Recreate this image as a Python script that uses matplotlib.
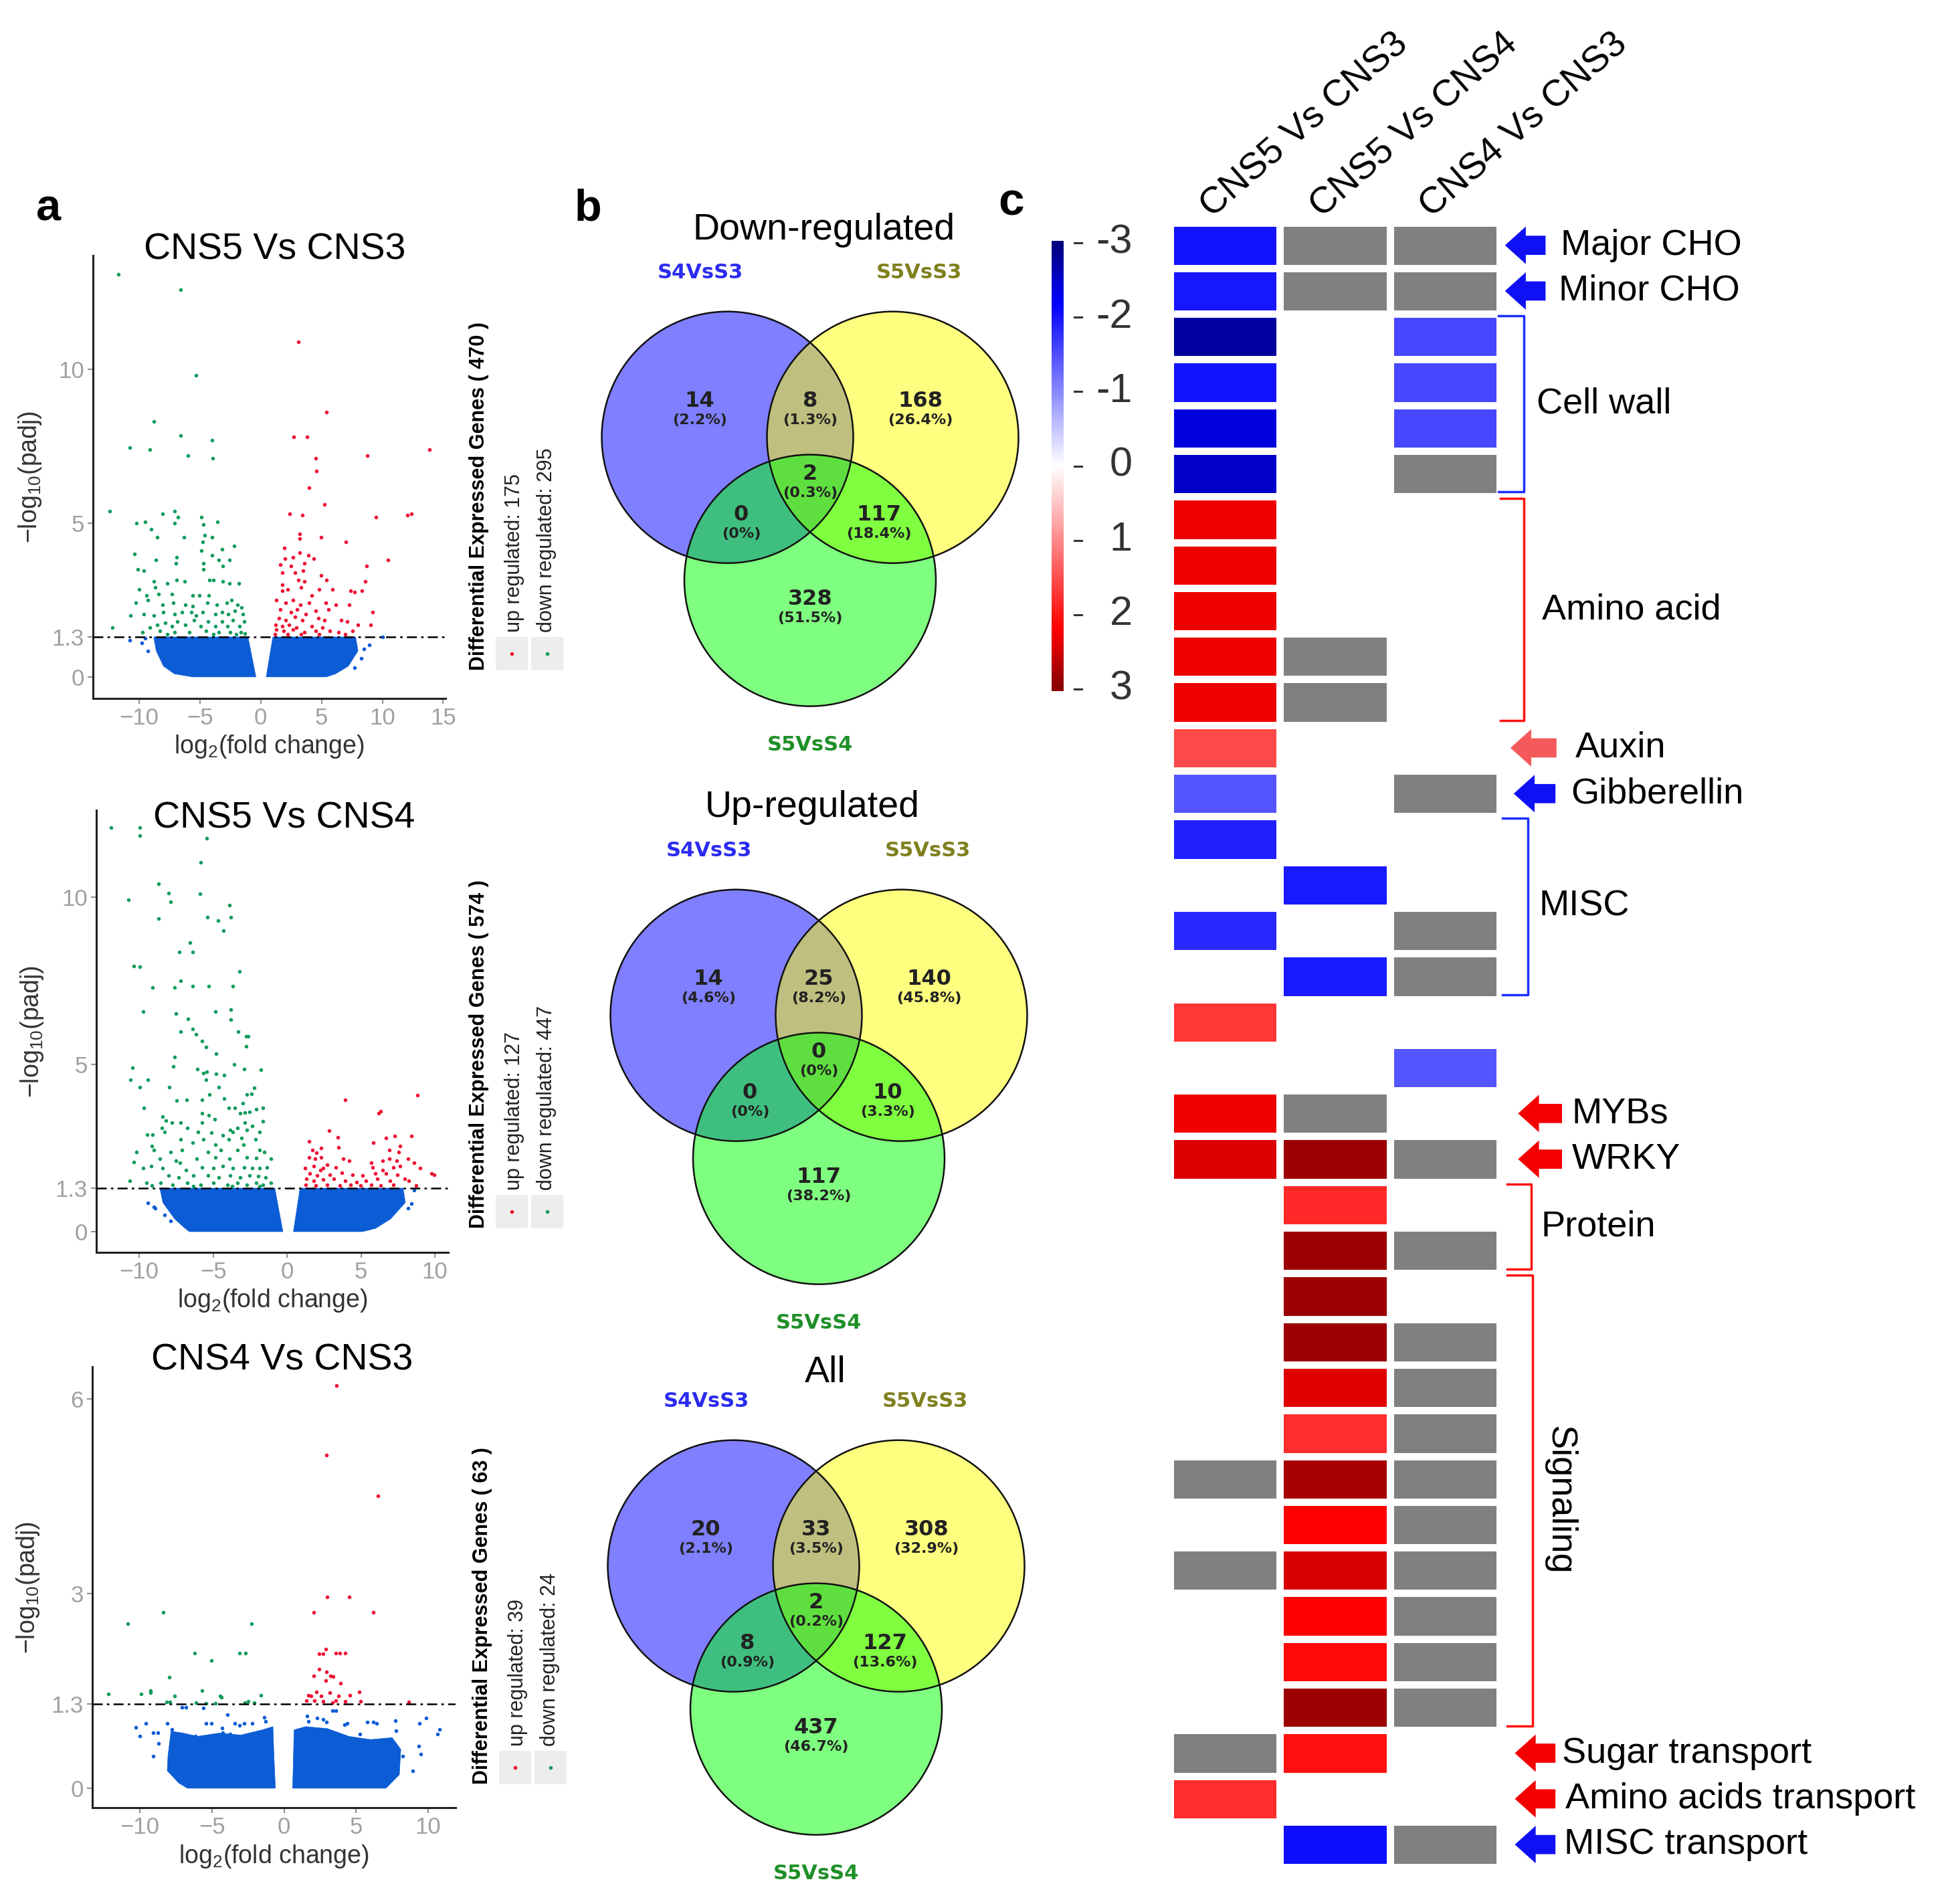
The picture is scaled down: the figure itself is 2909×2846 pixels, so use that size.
import numpy as np
import matplotlib
matplotlib.use('Agg')
import matplotlib.pyplot as plt
from matplotlib.colors import LinearSegmentedColormap, ListedColormap, Normalize
from matplotlib.patches import Circle, Polygon, Rectangle
from matplotlib.lines import Line2D

plt.rcParams['font.family'] = ['Liberation Sans', 'DejaVu Sans']
plt.rcParams['mathtext.fontset'] = 'custom'
plt.rcParams['mathtext.rm'] = 'Liberation Sans'
plt.rcParams['mathtext.it'] = 'Liberation Sans:italic'
plt.rcParams['mathtext.bf'] = 'Liberation Sans:bold'

# ---------------- data: volcano plots ----------------
v1_down = [(-11.7,13.1),(-6.6,12.6),(-5.3,9.8),(-8.8,8.3),(-6.6,7.85),(-10.8,7.45),(-9.1,7.4),(-4.0,7.7),
           (-6.0,7.2),(-3.95,7.1),(-12.4,5.4),(-10.2,5.0),(-9.5,5.05),(-9.0,4.8),(-8.1,5.3),(-7.1,5.4),
           (-6.8,5.2),(-7.1,5.0),(-8.5,4.55),(-6.3,4.55),(-4.9,5.2),(-4.7,4.95),(-3.55,5.05),(-4.6,4.6),
           (-4.0,4.55),(-4.8,4.4),(-4.9,4.1),(-3.2,4.15),(-2.2,4.25),(-10.4,4.0),(-8.6,3.8),(-6.9,3.9),
           (-7.0,3.7),(-4.7,3.7),(-4.0,3.95),(-3.45,3.8),(-2.6,3.8),(-10.1,3.5),(-9.6,3.45),(-4.7,3.5),
           (-3.1,3.6),(-6.9,3.15),(-6.25,3.1),(-8.8,3.1),(-7.7,3.05),(-4.2,3.15),(-3.9,3.15),(-3.1,3.1),
           (-2.55,3.05),(-1.8,3.05),(-10.0,2.85),(-8.7,2.9),(-9.4,2.65),(-8.4,2.7),(-7.3,2.7),(-5.6,2.65),
           (-5.05,2.65),(-4.3,2.65),(-10.3,2.4),(-9.3,2.5),(-8.1,2.35),(-7.2,2.4),(-6.2,2.35),(-5.6,2.3),
           (-4.4,2.4),(-3.6,2.35),(-2.8,2.4),(-2.4,2.5),(-1.9,2.35),(-1.6,2.25),(-10.7,2.0),(-9.6,2.05),
           (-8.8,2.0),(-8.0,2.1),(-7.1,2.05),(-6.5,2.1),(-5.7,2.1),(-5.3,2.0),(-4.8,2.1),(-3.75,2.05),
           (-3.2,2.1),(-2.7,2.05),(-2.15,2.15),(-1.45,2.05),(-12.2,1.6),(-9.75,1.45),(-9.1,1.6),(-8.5,1.7),
           (-7.85,1.75),(-7.3,1.65),(-6.85,1.8),(-6.2,1.7),(-5.5,1.85),(-4.95,1.65),(-4.35,1.8),(-3.75,1.65),
           (-3.2,1.8),(-2.75,1.65),(-2.3,1.85),(-1.75,1.65),(-1.35,1.8),(-8.3,1.5),(-7.1,1.45),(-5.9,1.45),
           (-4.5,1.5),(-3.45,1.45),(-2.5,1.45),(-1.65,1.45),(-7.7,1.38),(-3.9,1.38),(-2.05,1.38),(-1.3,1.4)]
v1_up = [(3.1,10.9),(5.4,8.6),(2.7,7.8),(3.8,7.8),(4.5,7.1),(8.75,7.2),(13.9,7.4),(4.6,6.7),(4.0,6.15),
         (5.25,5.6),(2.4,5.3),(3.4,5.25),(9.45,5.2),(12.05,5.25),(12.4,5.3),(3.2,4.65),(3.2,4.5),(4.95,4.55),
         (7.0,4.4),(1.95,4.2),(10.45,3.8),(2.0,3.85),(2.65,3.9),(3.2,4.05),(3.9,3.95),(4.35,3.85),(1.6,3.65),
         (2.5,3.6),(3.6,3.7),(8.7,3.6),(1.8,3.4),(2.8,3.4),(3.5,3.45),(4.95,3.3),(3.1,3.15),(3.6,3.1),
         (5.4,3.15),(8.6,3.1),(1.8,3.0),(3.3,2.9),(4.8,2.85),(5.9,2.85),(1.75,2.8),(2.2,2.85),(4.2,2.65),
         (7.4,2.8),(7.7,2.75),(8.3,2.8),(1.3,2.5),(2.05,2.4),(2.65,2.5),(3.25,2.35),(4.0,2.4),(5.35,2.4),
         (6.2,2.35),(7.25,2.35),(1.6,2.2),(2.5,2.1),(3.0,2.2),(3.7,2.05),(4.5,2.15),(5.55,2.2),(9.2,2.1),
         (1.5,1.9),(2.05,1.85),(2.8,1.95),(3.4,1.85),(4.75,1.9),(5.25,1.85),(6.6,1.85),(7.1,1.8),(1.2,1.7),
         (1.75,1.65),(2.35,1.7),(2.95,1.6),(4.2,1.65),(5.1,1.6),(8.0,1.7),(9.05,1.7),(1.3,1.55),(1.9,1.5),
         (2.65,1.55),(3.6,1.45),(4.5,1.5),(5.7,1.5),(6.4,1.45),(7.55,1.5),(1.15,1.38),(2.2,1.38),(3.3,1.38),
         (4.8,1.38),(6.95,1.38)]
v1_blue = [(-10.75,1.2),(-9.8,1.1),(-9.3,0.85),(-9.5,1.25),(10.0,1.3),(8.9,1.03),(8.5,0.9),(8.25,0.6),(7.7,0.3)]
v1_cloud_left = ([-8.8,-8.6,-8.0,-7.1,-5.6,-0.4,-1.05], [1.3,0.85,0.35,0.1,0.0,0.0,1.3])
v1_cloud_right = ([1.0,7.8,8.0,7.2,6.15,5.4,0.45], [1.3,1.3,0.85,0.35,0.1,0.0,0.0])

v2_down = [(-11.9,12.08),(-9.97,12.08),(-9.97,11.83),(-5.44,11.77),(-5.86,11.04),(-8.7,10.41),(-8.0,10.12),
           (-7.9,9.87),(-5.9,10.1),(-10.75,9.93),(-3.9,9.76),(-5.4,9.41),(-4.65,9.3),(-3.8,9.41),(-8.7,9.36),
           (-4.3,9.0),(-6.55,8.63),(-7.3,8.36),(-6.4,8.36),(-10.35,7.94),(-9.97,7.92),(-3.2,7.78),(-9.1,7.31),
           (-7.6,7.31),(-7.2,7.5),(-6.4,7.35),(-5.3,7.35),(-3.65,7.35),(-9.75,6.58),(-7.5,6.53),(-6.7,6.37),
           (-4.85,6.58),(-3.8,6.64),(-3.8,6.34),(-7.2,5.98),(-6.4,6.06),(-6.15,5.91),(-5.75,5.71),(-5.5,5.53),
           (-3.3,5.98),(-2.75,5.85),(-2.65,5.85),(-2.75,5.55),(-4.8,5.33),(-7.6,5.22),(-7.7,4.95),(-10.45,4.9),
           (-6.05,4.86),(-5.65,4.75),(-5.45,4.79),(-4.8,4.73),(-4.25,4.68),(-3.6,5.0),(-2.9,4.86),(-1.76,4.84),
           (-5.5,4.54),(-10.6,4.55),(-9.4,4.55),(-9.97,4.32),(-7.95,4.32),(-4.6,4.32),(-2.2,4.3),(-2.4,4.13),
           (-2.7,4.1),(-4.25,3.99),(-5.25,4.1),(-5.75,3.95),(-6.8,3.94),(-7.45,3.92),(-3.0,3.84),(-9.7,3.7),
           (-3.95,3.7),(-3.55,3.7),(-2.1,3.67),(-1.65,3.7),(-3.15,3.54),(-2.85,3.56),(-2.55,3.59),(-5.75,3.54),
           (-5.3,3.48),(-8.4,3.45),(-4.9,3.37),(-8.2,3.32),(-7.8,3.26),(-7.2,3.26),(-5.75,3.26),(-2.85,3.26),
           (-1.65,3.3),(-8.45,3.1),(-6.75,3.1),(-3.85,3.05),(-3.35,3.1),(-2.35,3.16),(-9.45,2.91),(-9.1,2.91),
           (-8.3,2.99),(-6.0,2.99),(-5.1,2.96),(-4.35,2.88),(-3.65,2.99),(-2.7,3.05),(-1.85,2.99),(-7.2,2.77),
           (-5.65,2.77),(-3.95,2.77),(-3.1,2.8),(-2.15,2.77),(-6.4,2.67),(-4.85,2.61),(-2.95,2.61),(-9.15,2.56),
           (-10.2,2.39),(-9.0,2.45),(-7.9,2.39),(-7.1,2.45),(-5.35,2.39),(-4.5,2.45),(-3.35,2.45),(-1.85,2.45),
           (-1.55,2.39),(-8.6,2.18),(-7.5,2.12),(-6.1,2.18),(-4.85,2.23),(-3.9,2.18),(-2.7,2.23),(-2.1,2.21),
           (-1.1,2.18),(-10.35,2.09),(-9.75,1.9),(-9.2,1.96),(-8.4,1.9),(-7.25,2.07),(-6.85,1.85),(-5.75,1.93),
           (-5.0,1.9),(-4.35,1.96),(-3.65,1.9),(-2.9,1.93),(-2.35,1.9),(-1.85,1.9),(-1.35,1.93),(-8.0,1.69),
           (-7.35,1.63),(-6.35,1.69),(-5.35,1.69),(-4.6,1.63),(-3.85,1.69),(-3.15,1.63),(-2.55,1.69),(-1.95,1.66),
           (-1.45,1.63),(-10.65,1.52),(-9.5,1.47),(-8.55,1.47),(-7.75,1.41),(-6.75,1.47),(-5.85,1.41),(-5.0,1.47),
           (-4.05,1.41),(-3.35,1.47),(-2.7,1.41),(-2.1,1.47),(-1.65,1.41),(-1.1,1.47),(-9.15,1.38),(-6.35,1.36),
           (-3.7,1.36),(-1.85,1.36)]
v2_up = [(8.8,4.08),(3.95,3.95),(6.35,3.61),(6.2,3.54),(2.85,3.02),(3.45,2.83),(8.4,2.86),(7.3,2.86),(6.7,2.81),
         (5.85,2.67),(1.5,2.7),(3.5,2.52),(7.65,2.56),(6.9,2.45),(7.55,2.39),(1.7,2.45),(2.0,2.37),(2.3,2.5),
         (2.3,2.23),(1.5,2.23),(1.9,2.18),(3.8,2.18),(4.2,2.12),(5.7,2.07),(6.45,2.12),(6.9,2.18),(7.4,2.12),
         (8.2,2.18),(8.6,2.07),(1.2,1.9),(1.8,1.96),(2.45,1.9),(2.7,2.01),(2.25,1.85),(3.3,1.93),(5.8,1.93),
         (6.45,1.85),(7.2,1.93),(7.65,1.96),(9.0,1.9),(1.55,1.74),(2.05,1.69),(2.9,1.71),(3.7,1.77),(4.45,1.71),
         (5.1,1.69),(5.95,1.74),(6.7,1.74),(7.45,1.71),(9.75,1.74),(9.95,1.71),(1.3,1.58),(1.8,1.52),(2.45,1.56),
         (3.15,1.58),(3.95,1.52),(4.7,1.49),(5.35,1.52),(6.1,1.58),(6.95,1.52),(7.95,1.58),(8.25,1.52),(1.25,1.41),
         (1.95,1.38),(2.7,1.41),(3.55,1.38),(4.3,1.41),(4.95,1.38),(5.7,1.41),(6.35,1.38),(7.2,1.41),(8.75,1.38)]
v2_blue = [(-9.4,0.87),(-9.0,0.75),(-8.9,0.71),(-7.9,0.33),(-8.3,0.5),(8.6,1.25),(8.4,0.85),(8.2,0.7)]
v2_cloud_left = ([-8.6,-8.4,-7.6,-6.9,-6.6,-0.28,-0.83], [1.3,0.87,0.38,0.1,0.0,0.0,1.3])
v2_cloud_right = ([0.88,7.85,8.0,7.0,6.0,5.1,0.43], [1.3,1.3,0.87,0.38,0.1,0.0,0.0])

v3_down = [(-8.4,2.71),(-10.85,2.54),(-2.26,2.54),(-6.22,2.08),(-3.08,2.08),(-2.65,2.08),(-5.06,1.97),
           (-7.94,1.71),(-12.2,1.45),(-9.9,1.45),(-9.25,1.51),(-9.25,1.47),(-7.58,1.42),(-5.7,1.51),(-4.45,1.42),
           (-4.32,1.4),(-1.6,1.43),(-8.15,1.33),(-7.9,1.33),(-6.1,1.32),(-5.4,1.31),(-4.76,1.31),(-2.7,1.32),
           (-2.5,1.34),(-2.06,1.32)]
v3_up = [(3.65,6.21),(2.96,5.14),(6.5,4.51),(3.0,2.95),(4.52,2.95),(2.06,2.71),(6.17,2.71),(2.9,2.15),
         (2.44,2.07),(2.7,2.07),(3.6,2.08),(3.86,2.08),(4.24,2.08),(2.44,1.84),(2.06,1.73),(2.96,1.79),
         (3.2,1.73),(3.4,1.72),(2.9,1.66),(3.93,1.62),(5.22,1.48),(1.67,1.43),(2.24,1.48),(2.57,1.42),
         (3.16,1.47),(3.78,1.42),(4.58,1.43),(1.54,1.35),(2.13,1.35),(2.7,1.34),(3.6,1.35),(4.24,1.34),
         (5.32,1.34),(8.66,1.33),(1.88,1.42),(3.34,1.32)]
v3_blue = [(-10.3,0.94),(-10.0,0.8),(-9.6,1.0),(-9.1,0.86),(-8.75,0.86),(-8.7,0.69),(-9.1,0.49),(-8.1,1.0),
           (-7.8,0.91),(-7.07,1.25),(-6.8,1.25),(-5.6,1.24),(-5.4,1.0),(-5.06,1.0),(-4.3,0.93),(-3.93,1.13),
           (-3.42,1.0),(-3.08,0.97),(-2.75,1.0),(-2.19,1.0),(-1.36,1.09),(-1.29,1.03),(-4.24,0.86),(-3.73,0.83),
           (-5.4,0.77),(-6.17,0.8),(-7.07,0.8),(1.62,1.11),(1.67,1.03),(2.31,1.08),(2.7,1.06),(3.34,1.2),
           (3.6,1.2),(2.96,1.02),(4.37,1.0),(4.19,0.98),(5.78,1.02),(6.17,1.02),(6.43,1.0),(7.71,1.04),
           (7.79,0.89),(9.38,1.0),(9.85,1.08),(10.8,0.91),(10.67,0.83),(9.33,0.65),(9.5,0.53),(8.23,0.49),
           (7.46,0.69),(8.95,0.27),(5.27,0.83),(6.3,0.63),(5.0,0.63),(6.8,0.52)]
v3_cloud_left = ([-7.84,-8.05,-8.1,-7.3,-6.7,-0.6,-0.7,-0.77,-1.5,-3.0,-4.5,-6.0,-7.0],
                 [0.88,0.5,0.27,0.08,0.0,0.0,0.5,0.95,0.9,0.82,0.85,0.8,0.85])
v3_cloud_right = ([0.6,0.7,1.5,3.0,4.5,6.0,7.5,8.1,8.0,7.07], [0.0,0.9,0.95,0.92,0.8,0.75,0.78,0.6,0.21,0.0])

volcano_titles = ['CNS5 Vs CNS3', 'CNS5 Vs CNS4', 'CNS4 Vs CNS3']
deg_total = [470, 574, 63]
deg_up = [175, 127, 39]
deg_down = [295, 447, 24]

# ---------------- data: venn diagrams ----------------
venn_titles = ['Down-regulated', 'Up-regulated', 'All']
venn_sets = ['S4VsS3', 'S5VsS3', 'S5VsS4']
# order: S4 only, S5S3 only, S5S4 only, S4&S5S3, S4&S5S4, S5S3&S5S4, all three
down_counts = [14, 168, 328, 8, 0, 117, 2]
down_pcts = ['2.2%', '26.4%', '51.5%', '1.3%', '0%', '18.4%', '0.3%']
up_counts = [14, 140, 117, 25, 0, 10, 0]
up_pcts = ['4.6%', '45.8%', '38.2%', '8.2%', '0%', '3.3%', '0%']
all_counts = [20, 308, 437, 33, 8, 127, 2]
all_pcts = ['2.1%', '32.9%', '46.7%', '3.5%', '0.9%', '13.6%', '0.2%']

# ---------------- data: heatmap (log2 fold change, 'NA' = grey, None = blank) ----------------
heat_columns = ['CNS5 Vs CNS3', 'CNS5 Vs CNS4', 'CNS4 Vs CNS3']
heat_cns5_vs_cns3 = [-2.02, -2.0, -2.8, -2.02, -2.4, -2.55, 2.32, 2.32, 2.32, 2.32, 2.32, 1.55,
                     -1.47, -1.91, None, -1.83, None, 1.72, None, 2.32, 2.43, None, None, None,
                     None, None, None, 'NA', None, 'NA', None, None, None, 'NA', 1.8, None]
heat_cns5_vs_cns4 = ['NA', 'NA', None, None, None, None, None, None, None, 'NA', 'NA', None,
                     None, None, -1.97, None, -1.97, None, None, 'NA', 2.86, 1.85, 2.86, 2.86,
                     2.86, 2.41, 1.80, 2.79, 2.2, 2.48, 2.2, 2.13, 2.86, 2.06, None, -2.08]
heat_cns4_vs_cns3 = ['NA', 'NA', -1.58, -1.58, -1.58, 'NA', None, None, None, None, None, None,
                     'NA', None, None, 'NA', 'NA', None, -1.47, None, 'NA', None, 'NA', None,
                     'NA', 'NA', 'NA', 'NA', 'NA', 'NA', 'NA', 'NA', 'NA', None, None, 'NA']
# (label, row, color, arrow head x, arrow tail x, text x)
arrow_labels = [('Major CHO', 0, '#1010F5', 3.05, 3.42, 3.56),
                ('Minor CHO', 1, '#1010F5', 3.05, 3.42, 3.54),
                ('Auxin', 11, '#F45A5A', 3.10, 3.52, 3.69),
                ('Gibberellin', 12, '#1010F5', 3.13, 3.51, 3.65),
                ('MYBs', 19, '#F50000', 3.17, 3.57, 3.66),
                ('WRKY', 20, '#F50000', 3.17, 3.57, 3.66),
                ('Sugar transport', 33, '#F50000', 3.14, 3.51, 3.57),
                ('Amino acids transport', 34, '#F50000', 3.14, 3.51, 3.60),
                ('MISC transport', 35, '#1010F5', 3.14, 3.51, 3.59)]
# (label, first row, last row, color, bracket x0, x1, text x)
bracket_labels = [('Cell wall', 2, 5, '#1A2EFF', 2.99, 3.22, 3.34),
                  ('Amino acid', 6, 10, '#FF1010', 3.01, 3.22, 3.39),
                  ('MISC', 13, 16, '#1A2EFF', 3.03, 3.26, 3.36),
                  ('Protein', 21, 22, '#FF1010', 3.07, 3.29, 3.38),
                  ('Signaling', 23, 32, '#FF1010', 3.07, 3.30, 3.55)]

# ---------------- layout helpers (pixels of the 2909 x 2846 output) ----------------
W, H = 2909, 2846
fig = plt.figure(figsize=(W / 100, H / 100), dpi=100)


def px_axes(x0, y0, x1, y1):
    return fig.add_axes([x0 / W, 1 - y1 / H, (x1 - x0) / W, (y1 - y0) / H])


def ftext(x, y, s, **kw):
    return fig.text(x / W, 1 - y / H, s, **kw)


BLUE = '#0B5CD5'
RED = '#EE1133'
GREEN = '#129C5C'


def volcano(box, xlim, ylim, xticks, yticks, i, title_xy, cloud_l, cloud_r, blue, up, down,
            leg_x, leg_y, ylab_x, xlab_y):
    ax = px_axes(*box)
    ax.fill(cloud_l[0], cloud_l[1], color=BLUE, lw=0.5, zorder=1)
    ax.fill(cloud_r[0], cloud_r[1], color=BLUE, lw=0.5, zorder=1)
    b = np.array(blue)
    ax.scatter(b[:, 0], b[:, 1], s=16, c=BLUE, lw=0, zorder=1)
    u = np.array(up)
    ax.scatter(u[:, 0], u[:, 1], s=16, c=RED, lw=0, zorder=2)
    d = np.array(down)
    ax.scatter(d[:, 0], d[:, 1], s=16, c=GREEN, lw=0, zorder=2)
    ax.axhline(1.3, color='black', lw=1.8, ls=(0, (6, 2.5, 1.5, 2.5)), zorder=3)
    ax.set_xlim(*xlim)
    ax.set_ylim(*ylim)
    ax.set_xticks(xticks)
    ax.set_xticklabels([str(t) if t >= 0 else '\u2212' + str(-t) for t in xticks])
    ax.set_yticks(yticks)
    ax.set_yticklabels([('%g' % t) for t in yticks])
    for s in ['top', 'right']:
        ax.spines[s].set_visible(False)
    for s in ['left', 'bottom']:
        ax.spines[s].set_linewidth(2.2)
        ax.spines[s].set_color('#222222')
    ax.tick_params(labelsize=25, labelcolor='#A0A0A0', color='#909090', length=6, width=1.5)
    ax.set_xlabel('log$_{2}$(fold change)', fontsize=27, color='#333333')
    ax.set_ylabel('\u2212log$_{10}$(padj)', fontsize=27, color='#333333')
    ax.xaxis.set_label_coords(0.5, xlab_y)
    ax.yaxis.set_label_coords(ylab_x, 0.5)
    ftext(title_xy[0], title_xy[1], volcano_titles[i], fontsize=40, ha='center', va='baseline')
    # legend
    ftext(leg_x, leg_y, 'Differential Expressed Genes ( %d )' % deg_total[i], rotation=90,
          fontsize=22, fontweight='bold', ha='center', va='bottom')
    ftext(leg_x + 53, leg_y - 57, 'up regulated: %d' % deg_up[i], rotation=90, fontsize=22,
          ha='center', va='bottom', color='#222222')
    ftext(leg_x + 101, leg_y - 57, 'down regulated: %d' % deg_down[i], rotation=90, fontsize=22,
          ha='center', va='bottom', color='#222222')
    for k, col in enumerate([RED, GREEN]):
        x0 = leg_x + 25 + k * 53
        fig.add_artist(Rectangle((x0 / W, 1 - leg_y / H), 48 / W, 50 / H, transform=fig.transFigure,
                                 facecolor='#EDEDED', lw=0))
        fig.add_artist(Line2D([(x0 + 24) / W], [1 - (leg_y - 25) / H], marker='o', ms=3,
                              color=col, lw=0, transform=fig.transFigure))
    return ax


volcano((139, 382, 666, 1044), (-13.8, 15.2), (-0.70, 13.7), [-10, -5, 0, 5, 10, 15], [0, 1.3, 5, 10],
        0, (411, 388), v1_cloud_left, v1_cloud_right, v1_blue, v1_up, v1_down, 716, 1002, -0.14, -0.079)
volcano((144, 1211, 670, 1872), (-12.9, 10.9), (-0.62, 12.6), [-10, -5, 0, 5, 10], [0, 1.3, 5, 10],
        1, (425, 1238), v2_cloud_left, v2_cloud_right, v2_blue, v2_up, v2_down, 716, 1836, -0.145, -0.079)
volcano((138, 2043, 681, 2702), (-13.3, 11.9), (-0.30, 6.5), [-10, -5, 0, 5, 10], [0, 1.3, 3, 6],
        2, (422, 2048), v3_cloud_left, v3_cloud_right, v3_blue, v3_up, v3_down, 721, 2667, -0.14, -0.08)

# ---------------- venn diagrams ----------------
R = 188.0
SIDE = 247.0
centres = [(-SIDE / 2, -SIDE / (2 * np.sqrt(3))), (SIDE / 2, -SIDE / (2 * np.sqrt(3))), (0, SIDE / np.sqrt(3))]
fills = ['#0000FF', '#FFFF00', '#00FF00']
set_colors = ['#2B2BF0', '#80801F', '#1F8F28']
region_offsets = [(-165, -128), (165, -128), (0, 168), (0, -128), (-103, 42), (103, 42), (0, -19)]
label_offsets = [(-164, -320), (163, -320), (0, 386)]


def venn(centroid, title, title_xy, counts, pcts):
    S = 420
    cx, cy = centroid
    ax = px_axes(cx - S, cy - S, cx + S, cy + S)
    ax.set_xlim(-S, S)
    ax.set_ylim(S, -S)
    ax.axis('off')
    ax.patch.set_alpha(0)
    for (x, y), c in zip(centres, fills):
        ax.add_patch(Circle((x, y), R, facecolor=c, alpha=0.5, lw=0))
    for (x, y) in centres:
        ax.add_patch(Circle((x, y), R, facecolor='none', edgecolor='#111111', lw=1.8))
    for (dx, dy), n, p in zip(region_offsets, counts, pcts):
        ax.text(dx, dy + 11, str(n), fontsize=23, fontweight='bold', family='DejaVu Sans',
                ha='center', va='baseline', color='#222222')
        ax.text(dx, dy + 37, '(%s)' % p, fontsize=16, fontweight='bold', family='DejaVu Sans',
                ha='center', va='baseline', color='#222222')
    for (dx, dy), name, c in zip(label_offsets, venn_sets, set_colors):
        ax.text(dx, dy + 11, name, fontsize=22, fontweight='bold', family='DejaVu Sans',
                ha='center', va='baseline', color=c)
    ftext(title_xy[0], title_xy[1], title, fontsize=40, ha='center', va='baseline')


venn((1211, 725), venn_titles[0], (1232, 358), down_counts, down_pcts)
venn((1224, 1589), venn_titles[1], (1214, 1221), up_counts, up_pcts)
venn((1220, 2412), venn_titles[2], (1234, 2066), all_counts, all_pcts)

# ---------------- heatmap ----------------
cmap = LinearSegmentedColormap.from_list(
    'fc', [(0.0, '#000080'), (0.8 / 6, '#0000FF'), (0.5, '#FFFFFF'), (5.2 / 6, '#FF0000'), (1.0, '#8B0000')])
norm = Normalize(-3, 3)

cols = [heat_cns5_vs_cns3, heat_cns5_vs_cns4, heat_cns4_vs_cns3]
vals = np.array([[np.nan if (v is None or v == 'NA') else v for v in c] for c in cols], dtype=float).T
grey = np.array([[1.0 if v == 'NA' else np.nan for v in c] for c in cols], dtype=float).T
nrow = vals.shape[0]

hax = px_axes(1749.5, 332.5, 2241.5, 332.5 + nrow * 68.3)
hax.pcolormesh(np.ma.masked_invalid(vals), cmap=cmap, norm=norm, edgecolors='white', linewidth=6.5)
hax.pcolormesh(np.ma.masked_invalid(grey), cmap=ListedColormap(['#808080']), edgecolors='white',
               linewidth=6.5)
hax.set_xlim(0, 3)
hax.set_ylim(nrow, 0)
hax.axis('off')

for j, name in enumerate(heat_columns):
    hax.text(j + 0.43, 0.05, name, rotation=41, rotation_mode='anchor', ha='left', va='bottom',
             fontsize=40, clip_on=False)

for name, r, c, xh, xt, xtx in arrow_labels:
    yc = r + 0.5
    hl, hw, sw = 0.19, 0.82, 0.42
    pts = [(xh, yc), (xh + hl, yc - hw / 2), (xh + hl, yc - sw / 2), (xt, yc - sw / 2),
           (xt, yc + sw / 2), (xh + hl, yc + sw / 2), (xh + hl, yc + hw / 2)]
    hax.add_patch(Polygon(pts, closed=True, facecolor=c, edgecolor='none', clip_on=False))
    hax.text(xtx, yc, name, fontsize=39, ha='left', va='center', clip_on=False)

for name, r0, r1, c, x0, x1, xtx in bracket_labels:
    top, bot = r0 + 0.04, r1 + 0.9
    hax.plot([x0, x1, x1, x0], [top, top, bot, bot], color=c, lw=2.5, clip_on=False,
             solid_joinstyle='round')
    ym = (top + bot) / 2
    if name == 'Signaling':
        hax.text(xtx, ym, name, fontsize=39, rotation=-90, ha='center', va='center', clip_on=False)
    else:
        hax.text(xtx, ym, name, fontsize=39, ha='left', va='center', clip_on=False)

# colour bar
cax = px_axes(1572, 360, 1590, 1033)
grad = np.linspace(-3.03, 3.03, 256).reshape(-1, 1)
cax.imshow(grad, aspect='auto', cmap=cmap, norm=norm, extent=[0, 1, 3.03, -3.03])
cax.set_xticks([])
cax.set_yticks([])
for s in cax.spines.values():
    s.set_visible(False)
cbar_ticks = [-3, -2, -1, 0, 1, 2, 3]
for t in cbar_ticks:
    cax.plot([1.9, 2.5], [t, t], color='#333333', lw=2.2, transform=cax.get_yaxis_transform(),
             clip_on=False)
    cax.text(6.7, t, str(t), fontsize=44, color='#333333', ha='right', va='center',
             transform=cax.get_yaxis_transform())

# panel letters
ftext(73, 330, 'a', fontsize=48, fontweight='bold', ha='center', va='baseline')
ftext(879, 330, 'b', fontsize=48, fontweight='bold', ha='center', va='baseline')
ftext(1512, 321, 'c', fontsize=50, fontweight='bold', ha='center', va='baseline')

fig.savefig('out.png', dpi=100, facecolor='white')
